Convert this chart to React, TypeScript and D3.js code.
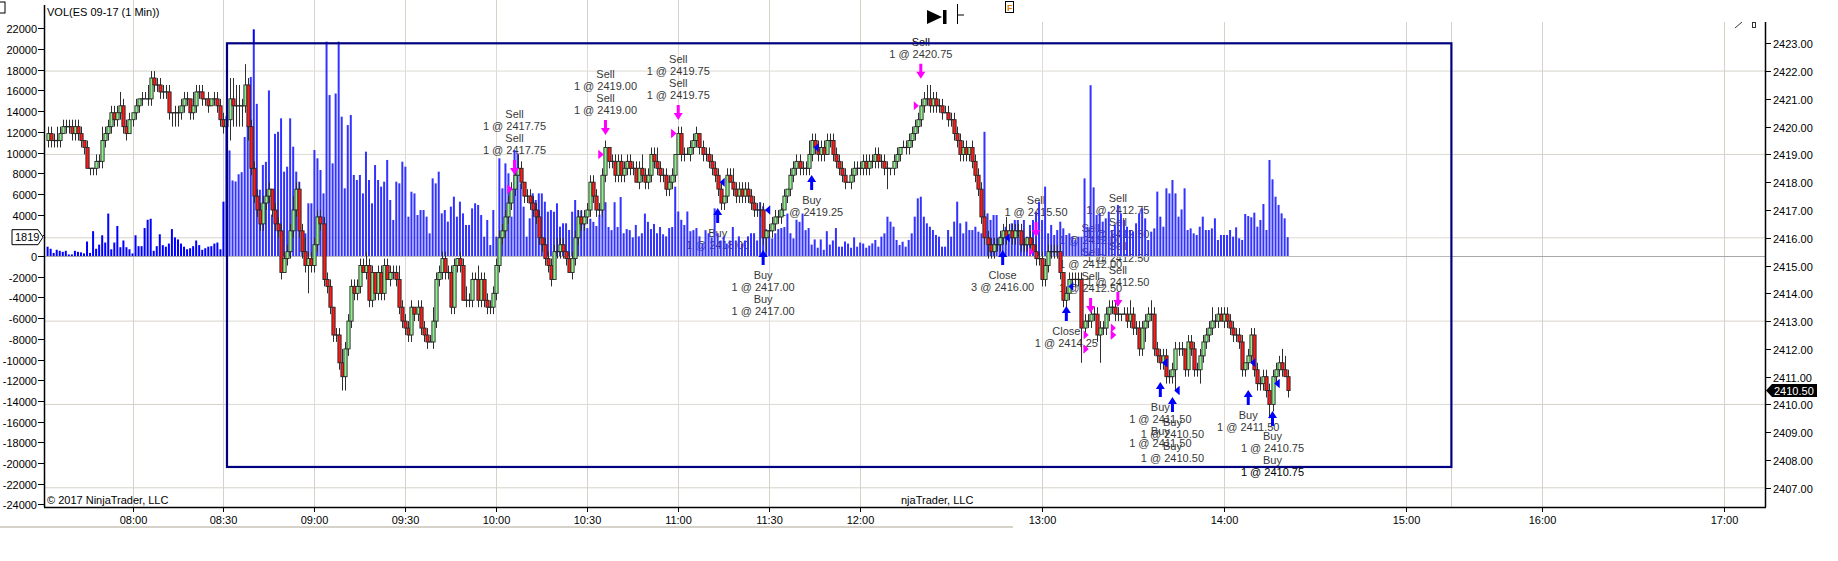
import React, { useRef, useEffect } from 'react';
import * as d3 from 'd3';

const W = 1838;
const H = 561;

// one-minute bars, bar 0 = 07:32, prices stored in ticks above 2407.00
const firstBar = '07:32';
const basePrice = 2407;
const tick = 0.25;
const firstOpenTicks = 50;

const closeTicks = [
  51, 50, 50, 50, 51, 52, 52, 52, 51, 52,
  51, 50, 49, 46, 46, 46, 47, 47, 50, 51,
  52, 54, 53, 54, 55, 52, 51, 53, 54, 55,
  56, 56, 56, 56, 59, 58, 58, 57, 57, 57,
  54, 54, 54, 54, 55, 56, 56, 54, 55, 57,
  57, 56, 56, 55, 56, 56, 55, 53, 52, 53,
  56, 55, 55, 55, 55, 58, 52, 46, 42, 40,
  38, 41, 42, 43, 40, 38, 37, 31, 33, 34,
  37, 40, 43, 37, 34, 32, 33, 32, 35, 39,
  38, 30, 29, 26, 22, 22, 18, 16, 20, 24,
  29, 28, 29, 32, 31, 32, 27, 31, 28, 31,
  28, 32, 30, 31, 31, 30, 26, 24, 23, 22,
  26, 25, 26, 23, 22, 21, 21, 24, 30, 31,
  33, 31, 31, 26, 32, 33, 32, 27, 27, 27,
  30, 30, 27, 30, 27, 26, 26, 28, 32, 36,
  37, 39, 41, 43, 45, 46, 44, 42, 42, 41,
  40, 39, 36, 35, 33, 32, 30, 34, 34, 35,
  34, 33, 31, 33, 36, 39, 38, 39, 40, 44,
  42, 40, 40, 45, 49, 47, 47, 45, 47, 45,
  46, 47, 46, 46, 44, 46, 45, 44, 45, 48,
  47, 46, 45, 45, 43, 44, 45, 48, 51, 48,
  48, 48, 49, 50, 51, 49, 48, 48, 47, 46,
  45, 43, 41, 42, 45, 44, 43, 42, 43, 42,
  43, 42, 41, 40, 40, 40, 36, 37, 37, 38,
  39, 39, 40, 42, 43, 45, 46, 47, 46, 46,
  46, 48, 50, 49, 48, 49, 48, 50, 50, 48,
  47, 46, 45, 44, 44, 45, 46, 46, 46, 47,
  46, 47, 47, 48, 47, 47, 46, 46, 46, 47,
  48, 49, 49, 49, 50, 51, 52, 53, 55, 56,
  56, 55, 56, 55, 55, 54, 54, 53, 53, 51,
  50, 48, 49, 48, 49, 47, 45, 43, 39, 36,
  35, 34, 35, 35, 36, 37, 36, 37, 36, 37,
  37, 35, 35, 36, 35, 34, 33, 33, 30, 32,
  34, 34, 34, 34, 31, 27, 28, 30, 30, 30,
  30, 23, 24, 24, 25, 25, 22, 23, 23, 25,
  26, 26, 25, 25, 25, 25, 24, 25, 23, 23,
  20, 23, 24, 25, 25, 20, 19, 18, 19, 16,
  16, 17, 20, 20, 20, 17, 21, 20, 17, 17,
  19, 21, 22, 23, 24, 24, 25, 24, 25, 24,
  23, 22, 22, 21, 17, 18, 19, 22, 17, 15,
  15, 16, 14, 12, 16, 17, 18, 17, 16, 14,
];

// wick length in ticks beyond the body, one digit per bar
const upperWicks = [
  '1112111111', '1101001121', '1111211101', '0112111111', '1011111021',
  '1101011112', '3333131111', '1111011111', '1211121111', '1111011211',
  '1111121101', '1111112111', '1011111211', '1111101121', '1121111111',
  '1111121011', '1110111121', '1011111111', '1111101111', '1111112111',
  '1211111011', '1111101111', '1110112111', '1111111011', '1111011111',
  '1211111111', '1111011111', '1111111101', '1011111111', '2211111111',
  '1111011111', '1111112111', '1110111111', '1111101111', '1111111111',
  '1111011211', '1111211111', '1111101111', '1111211111', '1111101111',
  '1111111221',
].join('');

const lowerWicks = [
  '1111101111', '1110111111', '1111111011', '1101111111', '1222111111',
  '1111011111', '3333312111', '1111111101', '1111114111', '1111111221',
  '1111011111', '1101111111', '1111110111', '1111111011', '1011111111',
  '1111101111', '1111111011', '1101111111', '1111111111', '1111011111',
  '1111111101', '1011111111', '1111101111', '1111111211', '1110111111',
  '1111111011', '1111011111', '1111111311', '1101111111', '1111110111',
  '1111111111', '2111111011', '1111101111', '1111111111', '1511111411',
  '1111101111', '1121111111', '1131111111', '2111111011', '1111111111',
  '1112111101',
].join('');

const volumes = [
  900, 700, 300, 600, 500, 400, 500, 150, 150, 500,
  400, 350, 250, 1400, 300, 2400, 700, 1100, 2000, 1300,
  4100, 650, 1300, 2900, 850, 1500, 850, 650, 250, 2000,
  950, 950, 2700, 3500, 3600, 500, 950, 2100, 1050, 900,
  1200, 2600, 1800, 1600, 1200, 900, 650, 750, 950, 1500,
  1050, 600, 750, 900, 950, 1200, 1300, 650, 5250, 13500,
  10200, 7300, 7200, 7900, 8100, 11500, 12700, 17300, 21900, 14700,
  6400, 8800, 9100, 16000, 4000, 11800, 12000, 13300, 8150, 8630,
  13300, 10560, 8150, 7180, 2190, 2190, 5090, 5090, 10240, 9440,
  8310, 6050, 20700, 15550, 8950, 15700, 20700, 13460, 6540, 12650,
  13620, 7830, 7340, 7830, 6050, 10080, 7340, 5090, 8790, 7340,
  6700, 7180, 9280, 5410, 3480, 7180, 7020, 9110, 8630, 3800,
  6210, 6050, 3960, 4440, 4440, 3800, 2190, 7500, 7020, 8150,
  4120, 4440, 3320, 4770, 5730, 3800, 5250, 4120, 3000, 3000,
  4600, 5090, 4930, 3960, 1870, 3480, 1060, 4440, 1870, 9440,
  6540, 8950, 7990, 3800, 10240, 9920, 7020, 4770, 1870, 3640,
  6050, 5410, 6050, 6050, 5250, 4280, 4440, 4280, 5090, 2830,
  3160, 3160, 2510, 4280, 5410, 4440, 4400, 3300, 2700, 3600,
  3300, 2900, 4000, 5300, 5200, 2800, 2500, 5200, 2800, 5700,
  2200, 2600, 2500, 1800, 3000, 1900, 2200, 4100, 3300, 2600,
  3100, 2200, 2800, 2100, 1900, 2700, 2800, 6700, 4300, 3500,
  3000, 4300, 2400, 2500, 2700, 1900, 1200, 2500, 2200, 1800,
  4600, 2200, 1500, 1900, 1200, 1500, 2800, 1500, 1900, 1200,
  1500, 1900, 2200, 2200, 1500, 5200, 4800, 2600, 1900, 1700,
  2200, 2600, 2700, 2800, 4100, 2200, 1700, 3500, 3300, 4100,
  2500, 2700, 1100, 1600, 800, 1600, 600, 2400, 1100, 1500,
  2700, 900, 900, 1400, 1200, 800, 1800, 900, 1300, 1200,
  800, 1000, 1220, 1550, 900, 1870, 2190, 3800, 3320, 2830,
  1550, 1060, 1380, 900, 1550, 2190, 3800, 5570, 5730, 3800,
  3160, 2830, 2510, 2030, 1870, 900, 900, 2510, 1870, 3320,
  5250, 3160, 2190, 3320, 2510, 2510, 2830, 2350, 2190, 12000,
  4120, 3480, 3960, 3960, 1870, 2190, 2830, 1870, 3160, 3480,
  3480, 2030, 3480, 1870, 3000, 3480, 4280, 5250, 3480, 6700,
  2190, 3000, 2030, 2510, 3320, 2670, 2030, 2190, 1870, 1550,
  1870, 1870, 7500, 2830, 16500, 6630, 3960, 4120, 3320, 3640,
  4280, 2510, 3000, 4930, 4120, 3480, 2830, 2510, 2350, 3160,
  4120, 4610, 3640, 1550, 2350, 2670, 6220, 3800, 2830, 6540,
  6050, 7340, 6050, 3800, 4500, 6540, 2510, 2670, 2190, 2030,
  2830, 3800, 2510, 2510, 2670, 3640, 1550, 2030, 2030, 2030,
  2510, 1870, 2770, 1710, 1550, 4060, 3860, 3740, 4190, 2830,
  3480, 5020, 2510, 9280, 7410, 5730, 4930, 4120, 3640, 1819,
];

const timeLabels = ['08:00', '08:30', '09:00', '09:30', '10:00', '10:30', '11:00', '11:30', '12:00', '13:00', '14:00', '15:00', '16:00', '17:00'];
const sessionBreak = '15:15';
const sessionResume = '15:30';
const priceTicks = d3.range(2407, 2424, 1);
const priceGrid = [2407, 2410, 2413, 2416, 2419, 2422];
const volumeTicks = d3.range(-24000, 22001, 2000);

const lastVolume = 1819;
const lastPrice = 2410.5;

// drawn rectangle: from 08:31 at 2423.00 down to 15:15 at 2407.75
const boxFrom = '08:31';
const boxTo = '15:15';
const boxHigh = 2423;
const boxLow = 2407.75;

// executions: bar index, side, caption, arrow tip price, [qty, price] fills
const trades: { bar: number; side: 'buy' | 'sell'; tag: string; tip: number; fills: [number, number][] }[] = [
  { bar: 154, side: 'sell', tag: 'Sell', tip: 2418.26, fills: [[1, 2417.75], [1, 2417.75]] },
  { bar: 184, side: 'sell', tag: 'Sell', tip: 2419.7, fills: [[1, 2419.0], [1, 2419.0]] },
  { bar: 208, side: 'sell', tag: 'Sell', tip: 2420.24, fills: [[1, 2419.75], [1, 2419.75]] },
  { bar: 221, side: 'buy', tag: 'Buy', tip: 2417.07, fills: [[1, 2418.0]] },
  { bar: 236, side: 'buy', tag: 'Buy', tip: 2415.56, fills: [[1, 2417.0], [1, 2417.0]] },
  { bar: 252, side: 'buy', tag: 'Buy', tip: 2418.26, fills: [[1, 2419.25]] },
  { bar: 288, side: 'sell', tag: 'Sell', tip: 2421.72, fills: [[1, 2420.75]] },
  { bar: 315, side: 'buy', tag: 'Close', tip: 2415.56, fills: [[3, 2416.0]] },
  { bar: 326, side: 'sell', tag: 'Sell', tip: 2416.03, fills: [[1, 2415.5]] },
  { bar: 336, side: 'buy', tag: 'Close', tip: 2413.54, fills: [[1, 2414.25]] },
  { bar: 344, side: 'sell', tag: 'Sell', tip: 2413.29, fills: [[1, 2412.0], [1, 2412.0], [1, 2412.5]] },
  { bar: 353, side: 'sell', tag: 'Sell', tip: 2413.51, fills: [[1, 2412.75], [1, 2412.5], [1, 2412.5], [1, 2412.5]] },
  { bar: 367, side: 'buy', tag: 'Buy', tip: 2410.81, fills: [[1, 2411.5], [1, 2411.5]] },
  { bar: 371, side: 'buy', tag: 'Buy', tip: 2410.27, fills: [[1, 2410.5], [1, 2410.5]] },
  { bar: 396, side: 'buy', tag: 'Buy', tip: 2410.52, fills: [[1, 2411.5]] },
  { bar: 404, side: 'buy', tag: 'Buy', tip: 2409.76, fills: [[1, 2410.75], [1, 2410.75]] },
];

const font = "'Liberation Sans', Arial, Helvetica, sans-serif";
const gridColor = '#d6d2ca';

const minutes = (s: string) => {
  const [h, m] = s.split(':').map(Number);
  return h * 60 + m;
};
// bar index of a clock time, with the 15:15-15:30 maintenance break removed
const barOf = (s: string) => {
  let t = minutes(s) - minutes(firstBar);
  if (minutes(s) >= minutes(sessionResume)) t -= minutes(sessionResume) - minutes(sessionBreak);
  return t;
};

const App: React.FC = () => {
  const svgRef = useRef<SVGSVGElement>(null);

  useEffect(() => {
    if (!svgRef.current) return;
    const svg = d3.select(svgRef.current);
    svg.selectAll('*').remove();

    const left = 44;
    const right = 1765;
    const bottom = 507;

    const x = d3.scaleLinear().domain([barOf('08:00'), barOf('14:00')]).range([132.5, 1224]);
    const y = d3.scaleLinear().domain([2407, 2423]).range([487.8, 43.3]);
    const v = d3.scaleLinear().domain([0, 22000]).range([256, 28.3]);

    const px = (t: number) => basePrice + t * tick;
    const bars = closeTicks.map((c, i) => {
      const o = i === 0 ? firstOpenTicks : closeTicks[i - 1];
      return {
        i,
        o: px(o),
        c: px(c),
        h: px(Math.max(o, c) + Number(upperWicks[i])),
        l: px(Math.min(o, c) - Number(lowerWicks[i])),
      };
    });

    const bx0 = x(barOf(boxFrom)) + 0.5;
    const bx1 = x(barOf(boxTo));
    const by0 = y(boxHigh);
    const by1 = y(boxLow);

    svg.append('rect').attr('width', W).attr('height', H).attr('fill', '#fff');

    // grid
    const grid = svg.append('g').attr('stroke', gridColor).attr('stroke-width', 1);
    priceGrid.forEach(p => {
      grid.append('line').attr('x1', left).attr('x2', right).attr('y1', y(p)).attr('y2', y(p));
    });
    [...timeLabels, sessionBreak].forEach(t => {
      const xx = Math.round(x(barOf(t))) + 0.5;
      grid.append('line').attr('x1', xx).attr('x2', xx).attr('y1', xx < 1013 ? 0 : 22).attr('y2', bottom);
    });

    // bottom separator of the window frame
    svg.append('line').attr('x1', 0).attr('x2', 1013).attr('y1', 527).attr('y2', 527)
      .attr('stroke', gridColor).attr('stroke-width', 2);

    // execution captions (sit under the volume bars)
    const labels = svg.append('g').attr('font-family', font).attr('font-size', 11).attr('fill', '#000')
      .attr('text-anchor', 'middle');
    trades.forEach(tr => {
      const lines = tr.fills.flatMap(([q, p]) => [tr.tag, `${q} @ ${p.toFixed(2)}`]);
      const cx = x(tr.bar);
      const ty = y(tr.tip);
      lines.forEach((s, j) => {
        const cy = tr.side === 'sell'
          ? ty - 25 - (lines.length - 1 - j) * 12
          : ty + 25 + j * 12;
        labels.append('text').attr('x', cx).attr('y', cy + 4).text(s);
      });
    });

    // volume
    svg.append('line').attr('x1', left).attr('x2', right).attr('y1', v(0) + 0.5).attr('y2', v(0) + 0.5)
      .attr('stroke', '#a8a8a8');
    svg.append('g').selectAll('rect').data(volumes).enter().append('rect')
      .attr('x', (_, i) => x(i) - 1)
      .attr('width', 2)
      .attr('y', d => v(d))
      .attr('height', d => v(0) - v(d))
      .attr('fill', '#0000ff');

    // the drawn rectangle has a faint white fill that lightens what is under it
    svg.append('rect').attr('x', bx0).attr('y', by0).attr('width', bx1 - bx0).attr('height', by1 - by0)
      .attr('fill', '#fff').attr('opacity', 0.2);

    // candles
    const cg = svg.append('g');
    cg.selectAll('line.wick').data(bars).enter().append('line')
      .attr('x1', d => Math.round(x(d.i)) + 0.5).attr('x2', d => Math.round(x(d.i)) + 0.5)
      .attr('y1', d => y(d.h)).attr('y2', d => y(d.l))
      .attr('stroke', '#2e2e2e').attr('stroke-width', 1);
    bars.forEach(d => {
      const xc = Math.round(x(d.i)) + 0.5;
      if (d.o === d.c) {
        cg.append('line').attr('x1', xc - 2).attr('x2', xc + 2).attr('y1', y(d.c)).attr('y2', y(d.c))
          .attr('stroke', '#222').attr('stroke-width', 1.2);
      } else {
        const top = y(Math.max(d.o, d.c));
        const bot = y(Math.min(d.o, d.c));
        cg.append('rect').attr('x', xc - 1.6).attr('width', 3.2).attr('y', top).attr('height', bot - top)
          .attr('fill', d.c > d.o ? '#90ee90' : '#ff1a1a').attr('stroke', '#262626').attr('stroke-width', 0.9);
      }
    });

    // drawn rectangle outline
    svg.append('rect').attr('x', bx0).attr('y', by0).attr('width', bx1 - bx0).attr('height', by1 - by0)
      .attr('fill', 'none').attr('stroke', '#000080').attr('stroke-width', 2.2);

    // execution arrows and fill markers
    const mk = svg.append('g');
    trades.forEach(tr => {
      const cx = x(tr.bar);
      const ty = y(tr.tip);
      const col = tr.side === 'sell' ? '#ff00ff' : '#0000ff';
      const dir = tr.side === 'sell' ? -1 : 1;
      mk.append('path')
        .attr('d', `M${cx},${ty} L${cx - 4.5},${ty + dir * 7} L${cx - 1.5},${ty + dir * 7} L${cx - 1.5},${ty + dir * 15} L${cx + 1.5},${ty + dir * 15} L${cx + 1.5},${ty + dir * 7} L${cx + 4.5},${ty + dir * 7} Z`)
        .attr('fill', col);
      tr.fills.forEach(([, p]) => {
        const fy = y(p);
        const d = tr.side === 'sell'
          ? `M${cx - 7},${fy - 4.5} L${cx - 2},${fy} L${cx - 7},${fy + 4.5} Z`
          : `M${cx + 7},${fy - 4.5} L${cx + 2},${fy} L${cx + 7},${fy + 4.5} Z`;
        mk.append('path').attr('d', d).attr('fill', col);
      });
    });

    // axes
    const ax = svg.append('g').attr('stroke', '#000');
    ax.append('line').attr('x1', left + 0.5).attr('x2', left + 0.5).attr('y1', 5).attr('y2', bottom).attr('stroke-width', 1.5);
    ax.append('line').attr('x1', right + 0.5).attr('x2', right + 0.5).attr('y1', 22).attr('y2', bottom).attr('stroke-width', 1.5);
    ax.append('line').attr('x1', left).attr('x2', right + 1).attr('y1', bottom + 0.5).attr('y2', bottom + 0.5).attr('stroke-width', 1.5);

    const txt = svg.append('g').attr('font-family', font).attr('font-size', 11).attr('fill', '#000');

    volumeTicks.forEach(t => {
      const yy = Math.round(v(t)) + 0.5;
      ax.append('line').attr('x1', 38).attr('x2', left).attr('y1', yy).attr('y2', yy);
      txt.append('text').attr('x', 37).attr('y', yy + 4).attr('text-anchor', 'end').text(String(t));
    });

    priceTicks.forEach(p => {
      const yy = Math.round(y(p)) + 0.5;
      ax.append('line').attr('x1', right).attr('x2', right + 6).attr('y1', yy).attr('y2', yy);
      txt.append('text').attr('x', right + 8).attr('y', yy + 4).text(p.toFixed(2));
    });

    timeLabels.forEach(t => {
      const xx = Math.round(x(barOf(t))) + 0.5;
      ax.append('line').attr('x1', xx).attr('x2', xx).attr('y1', bottom).attr('y2', bottom + 5);
      txt.append('text').attr('x', xx).attr('y', 524).attr('text-anchor', 'middle').text(t);
    });

    // last volume marker on the left axis (covers the tick label underneath)
    const lv = v(lastVolume);
    const mark = svg.append('g').attr('font-family', font).attr('font-size', 11);
    mark.append('rect').attr('x', 0).attr('y', lv - 10).attr('width', 43).attr('height', 20).attr('fill', '#fff');
    mark.append('path')
      .attr('d', `M12,${lv - 7.5} L38,${lv - 7.5} L43,${lv} L38,${lv + 7.5} L12,${lv + 7.5} Z`)
      .attr('fill', '#fff').attr('stroke', '#000');
    mark.append('text').attr('x', 15).attr('y', lv + 4).attr('fill', '#000').text(String(lastVolume));

    // last price marker on the right axis
    const lp = y(lastPrice);
    mark.append('path')
      .attr('d', `M${right + 1},${lp} L${right + 7},${lp - 6.5} L${right + 52},${lp - 6.5} L${right + 52},${lp + 6.5} L${right + 7},${lp + 6.5} Z`)
      .attr('fill', '#000');
    mark.append('text').attr('x', right + 9).attr('y', lp + 4).attr('fill', '#fff').text(lastPrice.toFixed(2));

    // titles and footer
    txt.append('text').attr('x', 47).attr('y', 16).text('VOL(ES 09-17 (1 Min))');
    txt.append('text').attr('x', 47).attr('y', 504).text('\u00a9 2017 NinjaTrader, LLC');
    txt.append('text').attr('x', 901).attr('y', 504).text('njaTrader, LLC');

    // toolbar bits
    svg.append('rect').attr('x', -4).attr('y', 2).attr('width', 9).attr('height', 11)
      .attr('fill', '#fff').attr('stroke', '#000');
    svg.append('path').attr('d', 'M927,10 L942,17 L927,24 Z').attr('fill', '#000');
    svg.append('rect').attr('x', 943).attr('y', 10).attr('width', 3.5).attr('height', 14).attr('fill', '#000');
    svg.append('path').attr('d', 'M957.5,4 L957.5,24 M957.5,15 L964,15').attr('stroke', '#000').attr('fill', 'none');
    svg.append('rect').attr('x', 1005.5).attr('y', 1.5).attr('width', 8).attr('height', 11)
      .attr('fill', '#fff').attr('stroke', '#000');
    svg.append('text').attr('x', 1007).attr('y', 11).attr('font-family', font).attr('font-size', 9)
      .attr('font-weight', 'bold').attr('fill', '#e08000').text('F');
    svg.append('path').attr('d', 'M1735,28 L1742,22').attr('stroke', '#333').attr('fill', 'none');
    svg.append('rect').attr('x', 1752.5).attr('y', 22.5).attr('width', 3).attr('height', 5)
      .attr('fill', 'none').attr('stroke', '#333');
  }, []);

  return (
    <svg
      ref={svgRef}
      width={W}
      height={H}
      style={{ position: 'absolute', left: 0, top: 0, display: 'block' }}
      aria-label="ES 09-17 1 minute candles with volume and executions"
    />
  );
};

export default App;
